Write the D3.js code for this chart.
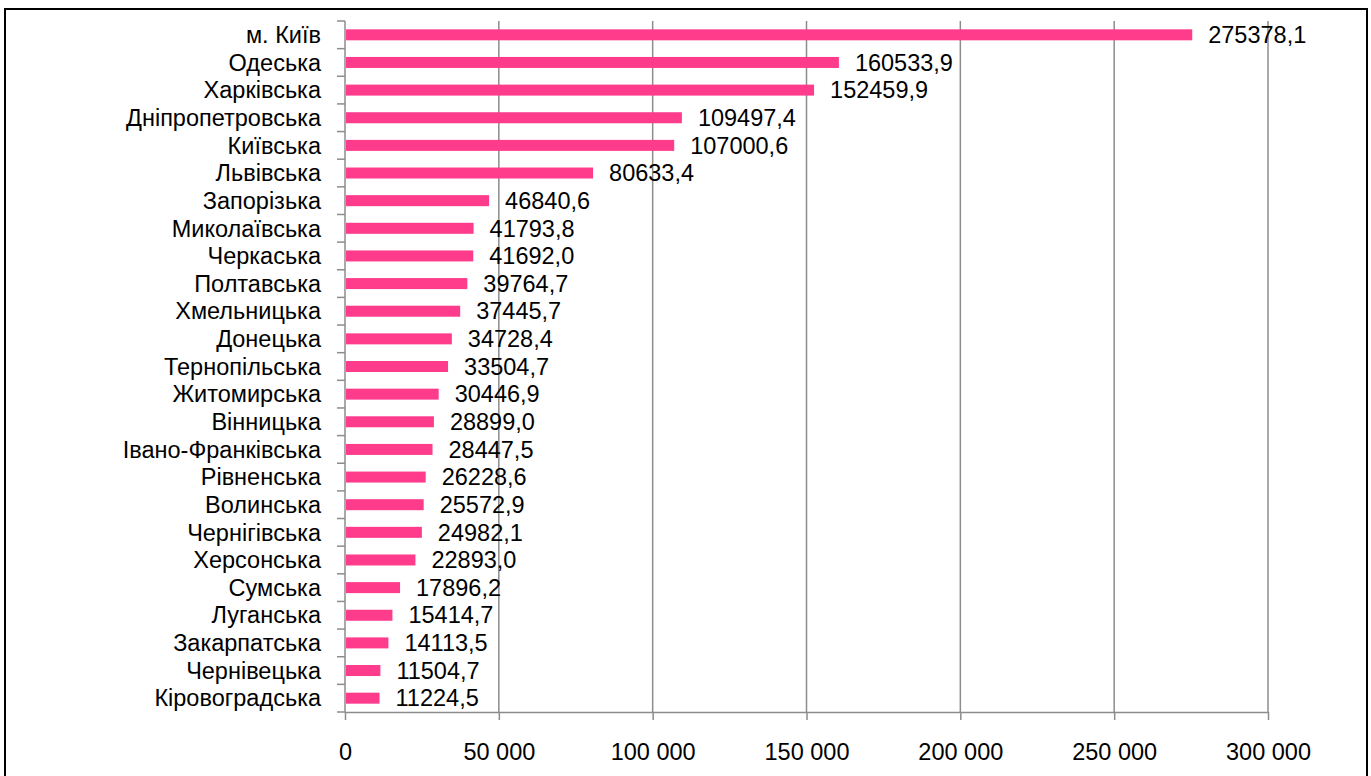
<!DOCTYPE html>
<html>
<head>
<meta charset="utf-8">
<script src="https://cdn.jsdelivr.net/npm/d3@7"></script>
<style>
  body { margin: 0; background: #fff; }
  svg { font-family: "Liberation Sans", Arial, sans-serif; }
</style>
</head>
<body>
<div id="chart"></div>
<script>
const regions = ['м. Київ', 'Одеська', 'Харківська', 'Дніпропетровська', 'Київська', 'Львівська',
  'Запорізька', 'Миколаївська', 'Черкаська', 'Полтавська', 'Хмельницька', 'Донецька',
  'Тернопільська', 'Житомирська', 'Вінницька', 'Івано-Франківська', 'Рівненська', 'Волинська',
  'Чернігівська', 'Херсонська', 'Сумська', 'Луганська', 'Закарпатська', 'Чернівецька', 'Кіровоградська'];
const values = [275378.1, 160533.9, 152459.9, 109497.4, 107000.6, 80633.4,
  46840.6, 41793.8, 41692.0, 39764.7, 37445.7, 34728.4,
  33504.7, 30446.9, 28899.0, 28447.5, 26228.6, 25572.9,
  24982.1, 22893.0, 17896.2, 15414.7, 14113.5, 11504.7, 11224.5];
const xTicks = [0, 50000, 100000, 150000, 200000, 250000, 300000];

const width = 1371, height = 776;
const margin = { top: 21, right: 103, bottom: 64, left: 345 };
const plotW = width - margin.left - margin.right;
const plotH = height - margin.top - margin.bottom;
const fontSize = 23.5;

const svg = d3.select('#chart').append('svg')
  .attr('width', width)
  .attr('height', height);

// chart frame
svg.append('rect')
  .attr('x', 5).attr('y', 9)
  .attr('width', 1362).attr('height', 780)
  .attr('fill', 'none')
  .attr('stroke', '#000')
  .attr('stroke-width', 2);

const g = svg.append('g').attr('transform', `translate(${margin.left},${margin.top})`);

const x = d3.scaleLinear().domain([0, 300000]).range([0, plotW]);
const y = d3.scaleBand().domain(regions).range([0, plotH]).paddingInner(0).paddingOuter(0);

const fmtTick = v => d3.format(',')(v).replace(/,/g, ' ');
const fmtVal = v => d3.format('.1f')(v).replace('.', ',');

// vertical gridlines
g.selectAll('.grid')
  .data(xTicks.slice(1))
  .enter().append('line')
  .attr('x1', d => x(d)).attr('x2', d => x(d))
  .attr('y1', 0).attr('y2', plotH)
  .attr('stroke', '#8c8c8c')
  .attr('stroke-width', 1.5);

// x axis
const xAxis = g.append('g')
  .attr('transform', `translate(0,${plotH})`)
  .call(d3.axisBottom(x).tickValues(xTicks).tickFormat(fmtTick).tickSize(8).tickPadding(23).tickSizeOuter(0));
xAxis.select('.domain').attr('stroke', '#8c8c8c').attr('stroke-width', 1.5);
xAxis.selectAll('.tick line').attr('stroke', '#8c8c8c').attr('stroke-width', 1.5);
xAxis.selectAll('.tick text').attr('font-size', fontSize).attr('fill', '#000')
  .attr('font-family', '"Liberation Sans", Arial, sans-serif');

// y axis: ticks on band boundaries
g.append('line')
  .attr('x1', 0).attr('x2', 0).attr('y1', 0).attr('y2', plotH)
  .attr('stroke', '#8c8c8c').attr('stroke-width', 1.5);
const bounds = regions.map(r => y(r)).concat([plotH]);
g.selectAll('.ytick')
  .data(bounds)
  .enter().append('line')
  .attr('x1', -8).attr('x2', 0)
  .attr('y1', d => d).attr('y2', d => d)
  .attr('stroke', '#8c8c8c').attr('stroke-width', 1.5);

g.selectAll('.ylabel')
  .data(regions)
  .enter().append('text')
  .attr('x', -24)
  .attr('y', d => y(d) + y.bandwidth() / 2)
  .attr('dy', '0.35em')
  .attr('text-anchor', 'end')
  .attr('font-size', fontSize)
  .attr('fill', '#000')
  .text(d => d);

// bars
const barH = 11;
g.selectAll('.bar')
  .data(values)
  .enter().append('rect')
  .attr('x', 1)
  .attr('y', (d, i) => y(regions[i]) + y.bandwidth() / 2 - barH / 2)
  .attr('width', d => x(d) - 1)
  .attr('height', barH)
  .attr('fill', '#ff3c8c');

// value labels
g.selectAll('.val')
  .data(values)
  .enter().append('text')
  .attr('x', d => x(d) + 16)
  .attr('y', (d, i) => y(regions[i]) + y.bandwidth() / 2)
  .attr('dy', '0.35em')
  .attr('font-size', fontSize)
  .attr('fill', '#000')
  .text(d => fmtVal(d));
</script>
</body>
</html>
